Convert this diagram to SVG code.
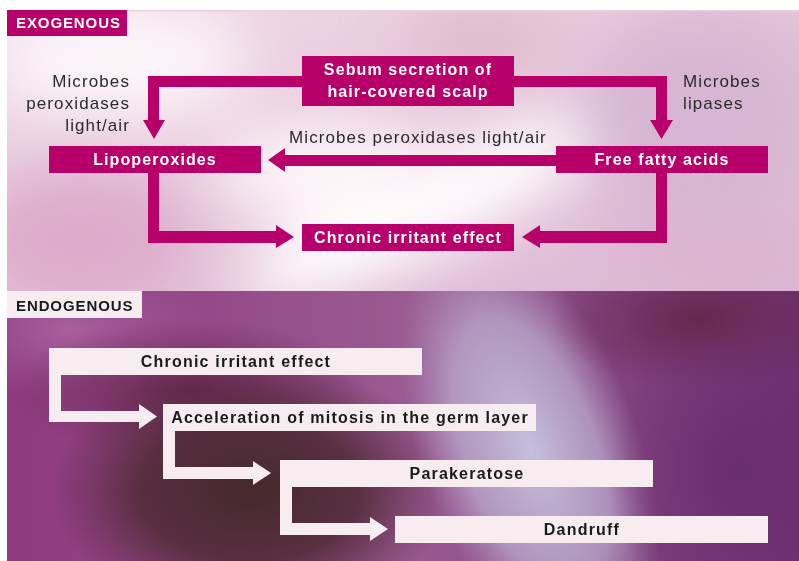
<svg xmlns="http://www.w3.org/2000/svg" width="799" height="561" viewBox="0 0 799 561">
<defs>
<style>
.mbox{fill:#b8006a}
.lbox{fill:#f7ecef}
.wt{font-family:"Liberation Sans",Arial,sans-serif;font-weight:bold;font-size:16px;letter-spacing:1.1px;fill:#ffffff;text-anchor:middle}
.dt{font-family:"Liberation Sans",Arial,sans-serif;font-weight:bold;font-size:16px;letter-spacing:1.2px;fill:#1a1a1a;text-anchor:middle}
.lbl{font-family:"Liberation Sans",Arial,sans-serif;font-size:17px;letter-spacing:1.1px;fill:#2a2a2a}
.hd{font-family:"Liberation Sans",Arial,sans-serif;font-weight:bold;font-size:15px;letter-spacing:0.9px}
.mc{fill:#b8006a}
.lc{fill:#f7ecef}
</style>
<filter id="blur" x="-50%" y="-50%" width="200%" height="200%"><feGaussianBlur stdDeviation="30"/></filter>
<clipPath id="topClip"><rect x="7" y="10" width="792" height="281"/></clipPath>
<clipPath id="botClip"><rect x="7" y="291" width="792" height="270"/></clipPath>
<linearGradient id="topBase" x1="0" y1="0" x2="1" y2="1">
<stop offset="0" stop-color="#f0dbe8"/>
<stop offset="0.5" stop-color="#e6c6da"/>
<stop offset="1" stop-color="#dcb8d4"/>
</linearGradient>
<linearGradient id="botBase" x1="0" y1="0" x2="1" y2="0">
<stop offset="0" stop-color="#8e3a7e"/>
<stop offset="0.5" stop-color="#9a5a92"/>
<stop offset="1" stop-color="#6e3070"/>
</linearGradient>
<radialGradient id="gDark"><stop offset="0" stop-color="#45282c" stop-opacity="1"/><stop offset="0.55" stop-color="#4e2a34" stop-opacity="0.85"/><stop offset="1" stop-color="#5a2a40" stop-opacity="0"/></radialGradient>
<radialGradient id="gLight"><stop offset="0" stop-color="#c4c0dc" stop-opacity="1"/><stop offset="0.6" stop-color="#bfb2d4" stop-opacity="0.7"/><stop offset="1" stop-color="#b8a0c8" stop-opacity="0"/></radialGradient>
<radialGradient id="gMaroon"><stop offset="0" stop-color="#66284e" stop-opacity="1"/><stop offset="1" stop-color="#6a2a54" stop-opacity="0"/></radialGradient>
<radialGradient id="gPurple"><stop offset="0" stop-color="#6a2c70" stop-opacity="1"/><stop offset="1" stop-color="#6e3070" stop-opacity="0"/></radialGradient>
<radialGradient id="gPink"><stop offset="0" stop-color="#a8609c" stop-opacity="1"/><stop offset="1" stop-color="#a0589a" stop-opacity="0"/></radialGradient>
</defs>
<rect x="0" y="0" width="799" height="561" fill="#ffffff"/>
<g id="background-top" clip-path="url(#topClip)">
<rect x="7" y="10" width="792" height="281" fill="url(#topBase)"/>
<g filter="url(#blur)">
<ellipse cx="120" cy="60" rx="130" ry="60" fill="#fbf4f8"/>
<ellipse cx="80" cy="240" rx="110" ry="70" fill="#dcaacb"/>
<ellipse cx="420" cy="210" rx="200" ry="45" fill="#ffffff" transform="rotate(-25 420 210)"/>
<ellipse cx="330" cy="170" rx="120" ry="50" fill="#fcf4f8"/>
<ellipse cx="700" cy="120" rx="120" ry="110" fill="#d6b6d2"/>
<ellipse cx="480" cy="40" rx="80" ry="30" fill="#dcb7c9"/>
<ellipse cx="720" cy="260" rx="110" ry="50" fill="#dcb4d0"/>
</g>
<rect x="7" y="10" width="792" height="1.5" fill="#eccfdd"/>
</g>
<g id="background-bottom" clip-path="url(#botClip)">
<rect x="7" y="291" width="792" height="270" fill="url(#botBase)"/>
<ellipse cx="70" cy="330" rx="140" ry="70" fill="url(#gPink)"/>
<ellipse cx="190" cy="390" rx="180" ry="70" fill="url(#gMaroon)"/>
<ellipse cx="250" cy="490" rx="200" ry="130" fill="url(#gDark)"/>
<ellipse cx="530" cy="450" rx="110" ry="230" fill="url(#gLight)" transform="rotate(-20 530 450)"/>
<ellipse cx="700" cy="320" rx="150" ry="70" fill="url(#gMaroon)"/>
<ellipse cx="740" cy="470" rx="130" ry="160" fill="url(#gPurple)"/>
</g>
<g id="label-exogenous">
<rect x="7" y="10" width="120" height="26" class="mbox"/>
<text x="16" y="28" class="hd" fill="#ffffff">EXOGENOUS</text>
</g>
<g id="label-endogenous">
<rect x="7" y="291" width="135" height="27" class="lbox"/>
<text x="16" y="311" class="hd" fill="#1a1a1a">ENDOGENOUS</text>
</g>
<g id="connectors">
<path class="mc" d="M302,76 L148,76 L148,120 L143,120 L154,139 L165,120 L159,120 L159,87 L302,87 Z"/>
<path class="mc" d="M514,76 L667,76 L667,120 L673,120 L661.5,139 L650,120 L656,120 L656,87 L514,87 Z"/>
<path class="mc" d="M556,155 L285,155 L285,148 L268,160 L285,172 L285,166 L556,166 Z"/>
<path class="mc" d="M148,173 L148,243 L276,243 L276,248 L294,237 L276,225 L276,231 L159,231 L159,173 Z"/>
<path class="mc" d="M667,173 L667,243 L540,243 L540,248 L522,237 L540,225 L540,231 L656,231 L656,173 Z"/>
<path class="lc" d="M49,375 L49,422 L139,422 L139,429 L157,416.5 L139,404 L139,411 L61,411 L61,375 Z"/>
<path class="lc" d="M163,431 L163,479 L253,479 L253,485 L271,473 L253,461 L253,467 L175,467 L175,431 Z"/>
<path class="lc" d="M280,487 L280,535 L370,535 L370,541 L388,529 L370,517 L370,523 L292,523 L292,487 Z"/>
</g>
<g id="connector-labels">
<text class="lbl" x="130" y="87" text-anchor="end">Microbes</text>
<text class="lbl" x="130" y="109" text-anchor="end">peroxidases</text>
<text class="lbl" x="130" y="131" text-anchor="end">light/air</text>
<text class="lbl" x="683" y="87">Microbes</text>
<text class="lbl" x="683" y="109">lipases</text>
<text class="lbl" x="289" y="143">Microbes peroxidases light/air</text>
</g>
<g id="node-sebum">
<rect x="302" y="56" width="212" height="50" class="mbox"/>
<text x="408" y="75" class="wt">Sebum secretion of</text>
<text x="408" y="97" class="wt">hair-covered scalp</text>
</g>
<g id="node-lipoperoxides">
<rect x="49" y="146" width="212" height="27" class="mbox"/>
<text x="155" y="165" class="wt">Lipoperoxides</text>
</g>
<g id="node-ffa">
<rect x="556" y="146" width="212" height="27" class="mbox"/>
<text x="662" y="165" class="wt">Free fatty acids</text>
</g>
<g id="node-chronic-top">
<rect x="302" y="224" width="212" height="27" class="mbox"/>
<text x="408" y="243" class="wt">Chronic irritant effect</text>
</g>
<g id="node-chronic-bottom">
<rect x="49" y="348" width="373" height="27" class="lbox"/>
<text x="236" y="367" class="dt">Chronic irritant effect</text>
</g>
<g id="node-mitosis">
<rect x="163" y="404" width="373" height="27" class="lbox"/>
<text x="350" y="423" class="dt">Acceleration of mitosis in the germ layer</text>
</g>
<g id="node-parakeratose">
<rect x="280" y="460" width="373" height="27" class="lbox"/>
<text x="467" y="479" class="dt">Parakeratose</text>
</g>
<g id="node-dandruff">
<rect x="395" y="516" width="373" height="27" class="lbox"/>
<text x="582" y="535" class="dt">Dandruff</text>
</g>
</svg>
